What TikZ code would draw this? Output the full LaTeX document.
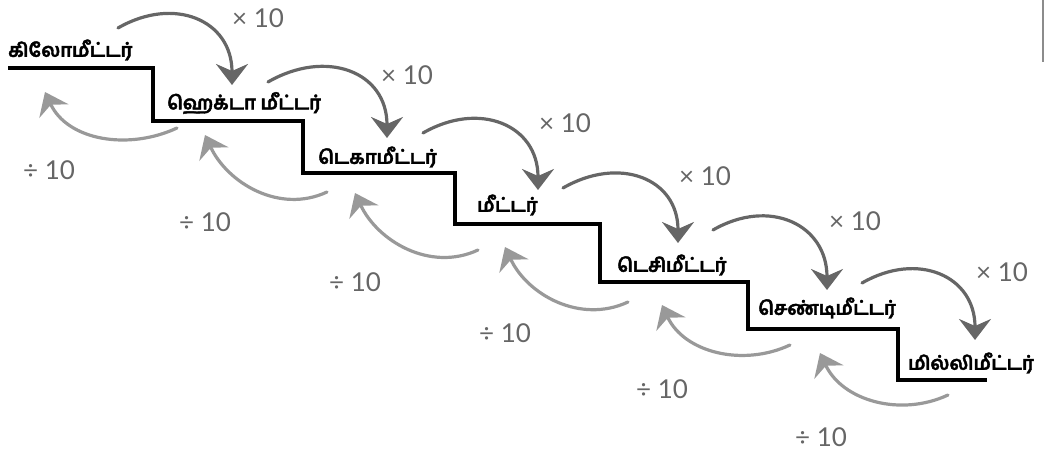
\documentclass[tikz,border=0pt]{standalone}
\usepackage{fontspec}
\setsansfont{Lato}
\newfontfamily\tamilfont[Script=Tamil, FakeBold=2]{Hind Madurai}
\usetikzlibrary{arrows.meta}
\tikzset{
  stair/.style={line width=3.6pt, draw=black, line join=miter},
  mularrow/.style={line width=3.2pt, draw=black!60, line cap=round, -{Stealth[length=21pt,width=32pt,inset=7pt]}},
  divarrow/.style={line width=3.2pt, draw=black!40, line cap=round, -{Stealth[length=21pt,width=32pt,inset=7pt]}},
  unitlabel/.style={font=\tamilfont\bfseries\fontsize{19}{19}\selectfont, anchor=west, inner sep=0pt},
  oplabel/.style={font=\sffamily\fontsize{26}{26}\selectfont, text=black!60, inner sep=0pt},
  edge/.style={line width=1.2pt, draw=black!45},
}
\begin{document}
\begin{tikzpicture}[x=1pt,y=1pt]
\useasboundingbox (0,0) rectangle (1044,456);
% staircase
\draw[stair] (8,388) -- (153,388) -- (153,335) -- (303,335) -- (303,283)
  -- (455,283) -- (455,232) -- (600,232) -- (600,174) -- (748,174)
  -- (748,127) -- (898,127) -- (898,76) -- (987,76);
% units
\node[unitlabel] (km) at (8,406) {கிலோமீட்டர்};
\node[unitlabel] (hm) at (167,353) {ஹெக்டா மீட்டர்};
\node[unitlabel] (dam) at (318,299) {டெகாமீட்டர்};
\node[unitlabel] (m) at (477,251) {மீட்டர்};
\node[unitlabel] (dm) at (617,191) {டெசிமீட்டர்};
\node[unitlabel] (cm) at (758,148) {செண்டிமீட்டர்};
\node[unitlabel] (mm) at (908,93) {மில்லிமீட்டர்};
% arrow ends
\coordinate (kmout) at (118,428);  \coordinate (hmin) at (232,371);
\coordinate (hmout) at (268,374);  \coordinate (damin) at (387,318);
\coordinate (damout) at (423,323); \coordinate (min) at (538,266);
\coordinate (mout) at (563,268);   \coordinate (dmin) at (678,213);
\coordinate (dmout) at (713,226);  \coordinate (cmin) at (827,166);
\coordinate (cmout) at (862,173);  \coordinate (mmin) at (975,116);
\coordinate (hmback) at (177,328);  \coordinate (kmback) at (45,364);
\coordinate (damback) at (327,264); \coordinate (hmup) at (205,321);
\coordinate (mback) at (478,206);   \coordinate (damup) at (355,263);
\coordinate (dmback) at (628,154);  \coordinate (mup) at (505,209);
\coordinate (cmback) at (790,111);  \coordinate (dmup) at (662,151);
\coordinate (mmback) at (948,61);   \coordinate (cmup) at (820,103);
% times ten
\draw[mularrow] (kmout) to[out=30,in=90,looseness=1.3] (hmin);
\draw[mularrow] (hmout) to[out=30,in=90,looseness=1.3] (damin);
\draw[mularrow] (damout) to[out=30,in=90,looseness=1.3] (min);
\draw[mularrow] (mout) to[out=30,in=90,looseness=1.3] (dmin);
\draw[mularrow] (dmout) to[out=30,in=90,looseness=1.3] (cmin);
\draw[mularrow] (cmout) to[out=30,in=90,looseness=1.3] (mmin);
% divided by ten
\draw[divarrow] (hmback) to[out=205,in=-65] (kmback);
\draw[divarrow] (damback) to[out=205,in=-65] (hmup);
\draw[divarrow] (mback) to[out=205,in=-65] (damup);
\draw[divarrow] (dmback) to[out=205,in=-65] (mup);
\draw[divarrow] (cmback) to[out=205,in=-65] (dmup);
\draw[divarrow] (mmback) to[out=205,in=-65] (cmup);
% factors
\node[oplabel] (mul1) at (258,438) {× 10};
\node[oplabel] (mul2) at (407,381) {× 10};
\node[oplabel] (mul3) at (565,333) {× 10};
\node[oplabel] (mul4) at (705,280) {× 10};
\node[oplabel] (mul5) at (855,235) {× 10};
\node[oplabel] (mul6) at (1002,184) {× 10};
\node[oplabel] (div1) at (49,286) {÷ 10};
\node[oplabel] (div2) at (205,234) {÷ 10};
\node[oplabel] (div3) at (355,174) {÷ 10};
\node[oplabel] (div4) at (505,123) {÷ 10};
\node[oplabel] (div5) at (662,67) {÷ 10};
\node[oplabel] (div6) at (821,19) {÷ 10};
% page edge
\draw[edge] (1043,456) -- (1043,394);
\end{tikzpicture}
\end{document}
